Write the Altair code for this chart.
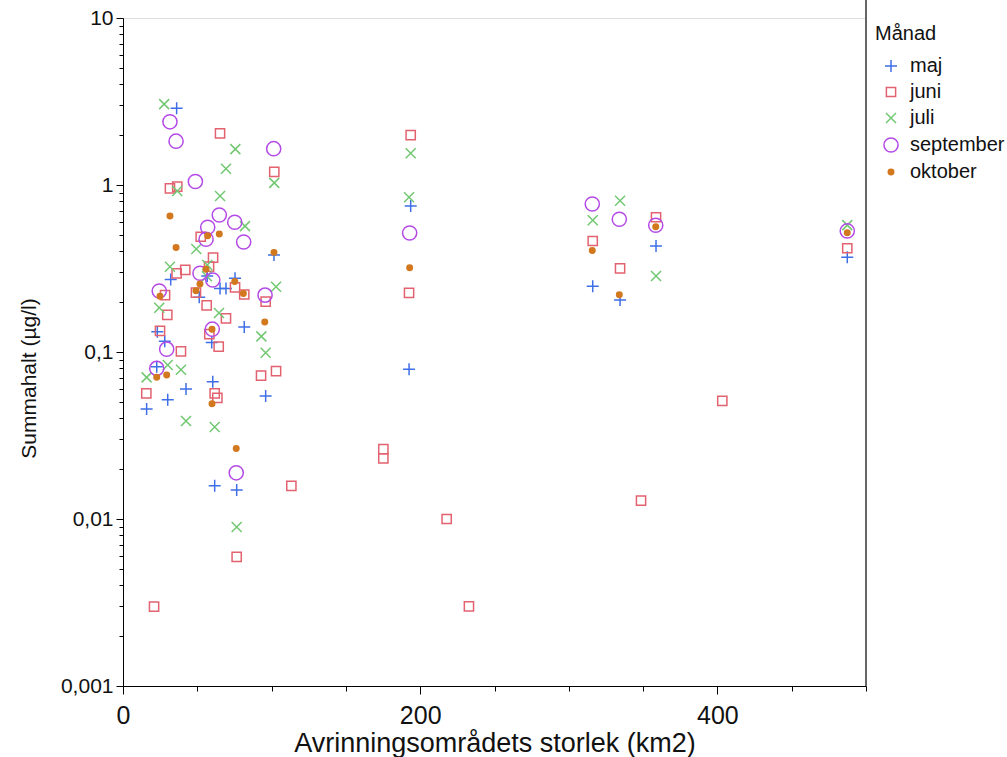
import altair as alt
import pandas as pd

# Monthly sampling series: catchment area (km2) vs. summed concentration (µg/l)
months = ["maj", "juni", "juli", "september", "oktober"]

maj_x = [36.1, 101.6, 56.7, 32.1, 75.4, 65.3, 69.3, 51.3, 81.6, 23.1, 28.1, 59.7, 22.7,
         60.4, 42.4, 30.1, 15.9, 96.0, 61.7, 76.5, 193.6, 192.5, 358.7, 316.1, 334.5, 487.4]
maj_y = [2.88, 0.381, 0.285, 0.272, 0.276, 0.240, 0.240, 0.213, 0.141, 0.132, 0.116, 0.114,
         0.0817, 0.0664, 0.060, 0.0517, 0.0456, 0.0546, 0.0158, 0.0149, 0.748, 0.0787,
         0.431, 0.248, 0.205, 0.369]

juni_x = [65.3, 101.8, 31.6, 36.5, 52.3, 60.6, 41.9, 36.1, 57.9, 75.4, 81.6, 28.3, 49.1,
          56.3, 96.0, 29.8, 69.3, 24.9, 58.1, 64.4, 39.0, 92.9, 103.0, 15.7, 61.7, 63.5,
          113.3, 76.5, 20.9, 193.6, 192.5, 175.2, 175.2, 217.8, 232.8, 316.1, 334.5, 358.7,
          403.3, 348.6, 487.4]
juni_y = [2.04, 1.20, 0.955, 0.977, 0.49, 0.367, 0.31, 0.296, 0.325, 0.244, 0.221, 0.219,
          0.227, 0.19, 0.20, 0.167, 0.159, 0.134, 0.128, 0.1076, 0.101, 0.0721, 0.0769,
          0.0566, 0.0566, 0.0532, 0.0158, 0.00594, 0.00299, 1.99, 0.226, 0.0262, 0.0231,
          0.01, 0.003, 0.462, 0.317, 0.641, 0.051, 0.0129, 0.418]

juli_x = [27.7, 75.6, 69.3, 101.8, 36.5, 65.3, 82.1, 49.3, 31.6, 56.7, 103.0, 24.4, 64.6,
          93.1, 96.0, 30.1, 39.0, 15.9, 42.4, 61.7, 76.5, 56.5, 193.6, 192.5, 334.5, 316.1,
          358.7, 487.4]
juli_y = [3.05, 1.64, 1.25, 1.03, 0.92, 0.86, 0.567, 0.414, 0.324, 0.332, 0.246, 0.184,
          0.171, 0.124, 0.099, 0.0836, 0.0783, 0.0705, 0.0386, 0.0356, 0.00895, 0.284,
          1.55, 0.844, 0.805, 0.615, 0.285, 0.575]

september_x = [31.6, 35.7, 101.4, 48.7, 64.8, 75.2, 57.0, 55.9, 81.2, 51.8, 60.4, 24.4,
               95.6, 60.1, 29.4, 22.7, 76.2, 192.9, 315.8, 334.0, 358.5, 487.4]
september_y = [2.39, 1.83, 1.65, 1.05, 0.661, 0.598, 0.558, 0.473, 0.456, 0.296, 0.27,
               0.232, 0.219, 0.137, 0.104, 0.0798, 0.0189, 0.516, 0.769, 0.624, 0.574, 0.531]

oktober_x = [31.6, 57.0, 64.8, 35.7, 101.6, 55.9, 51.8, 75.2, 81.0, 24.9, 49.1, 95.4, 59.9,
             22.7, 29.4, 59.9, 76.2, 192.9, 315.8, 334.0, 358.5, 487.4]
oktober_y = [0.652, 0.496, 0.509, 0.422, 0.395, 0.313, 0.255, 0.264, 0.224, 0.216, 0.233,
             0.151, 0.137, 0.0705, 0.0728, 0.049, 0.0264, 0.32, 0.405, 0.22, 0.563, 0.518]

x_ticks = [0, 50, 100, 150, 200, 250, 300, 350, 400, 450, 500]
y_ticks = [round(k * 10 ** e, 6) for e in range(-3, 1) for k in range(1, 10)] + [10]

rows = []
for m, xs, ys in zip(months,
                     [maj_x, juni_x, juli_x, september_x, oktober_x],
                     [maj_y, juni_y, juli_y, september_y, oktober_y]):
    for xv, yv in zip(xs, ys):
        rows.append({"manad": m, "area": xv, "halt": yv})
df = pd.DataFrame(rows)

FONT = "Liberation Sans"
W, H = 743, 668
LEFT, TOP = 123, 18

plus_path = "M-1,0L1,0M0,-1L0,1"
cross_path = "M-1,-1L1,1M-1,1L1,-1"

colors = ["#3f6fe6", "#e2626f", "#72c872", "#b44ae6", "#d2781e"]
shapes = [plus_path, "square", cross_path, "circle", "circle"]
sizes = [144, 85, 100, 200, 30]
fills = ["transparent", "transparent", "transparent", "transparent", "#d2781e"]

decade = "abs(log(datum.value)/LN10 - round(log(datum.value)/LN10)) < 1e-6"

legend = alt.Legend(
    title="Månad", orient="none", legendX=752, legendY=6,
    titleFontSize=20, titleFont=FONT, titleFontWeight="normal", titleColor="#111",
    labelFontSize=20, labelFont=FONT, labelColor="#111", labelOffset=9,
    rowPadding=6, symbolStrokeWidth=1.5, titlePadding=12, symbolOffset=6,
)

points = alt.Chart(df).mark_point(filled=False, strokeWidth=1.5, opacity=1).encode(
    x=alt.X("area:Q",
            scale=alt.Scale(domain=[0, 500], nice=False, zero=False),
            axis=alt.Axis(values=x_ticks, title="Avrinningsområdets storlek (km2)",
                          labelExpr="datum.value % 200 == 0 ? datum.label : ''",
                          tickSize={"condition": {"test": "datum.value % 200 == 0", "value": 8}, "value": 5},
                          labelFontSize=25, titleFontSize=27, labelFont=FONT, titleFont=FONT,
                          titleFontWeight="normal", labelColor="#111", titleColor="#111",
                          domainColor="#000", tickColor="#000", grid=False,
                          labelPadding=9, titlePadding=2, labelFlush=False)),
    y=alt.Y("halt:Q",
            scale=alt.Scale(type="log", domain=[0.001, 10], nice=False),
            axis=alt.Axis(values=y_ticks, title="Summahalt (µg/l)",
                          labelExpr=f"{decade} ? replace(format(datum.value, '~g'), '.', ',') : ''",
                          tickSize={"condition": {"test": decade, "value": 7}, "value": 4},
                          labelFontSize=21, titleFontSize=21, labelFont=FONT, titleFont=FONT,
                          titleFontWeight="normal", labelColor="#111", titleColor="#111",
                          domainColor="#000", tickColor="#000", grid=False,
                          labelPadding=3, titlePadding=21, titleY=360, labelFlush=False)),
    color=alt.Color("manad:N", scale=alt.Scale(domain=months, range=colors), legend=legend),
    shape=alt.Shape("manad:N", scale=alt.Scale(domain=months, range=shapes), legend=legend),
    size=alt.Size("manad:N", scale=alt.Scale(type="ordinal", domain=months, range=sizes), legend=legend),
    fill=alt.Fill("manad:N", scale=alt.Scale(domain=months, range=fills), legend=legend),
)

border = alt.Chart(df).mark_rule(color="#666", strokeWidth=2).encode(
    x=alt.value(W), y=alt.value(-TOP), y2=alt.value(H)
)

chart = alt.layer(points, border).properties(
    width=W, height=H,
    autosize=alt.AutoSizeParams(type="none"),
    padding={"left": LEFT, "top": TOP, "right": 1007 - LEFT - W, "bottom": 757 - TOP - H},
).configure_view(strokeOpacity=0).configure(background="white")

chart.save("out.html", embed_options={"renderer": "svg", "actions": False})
